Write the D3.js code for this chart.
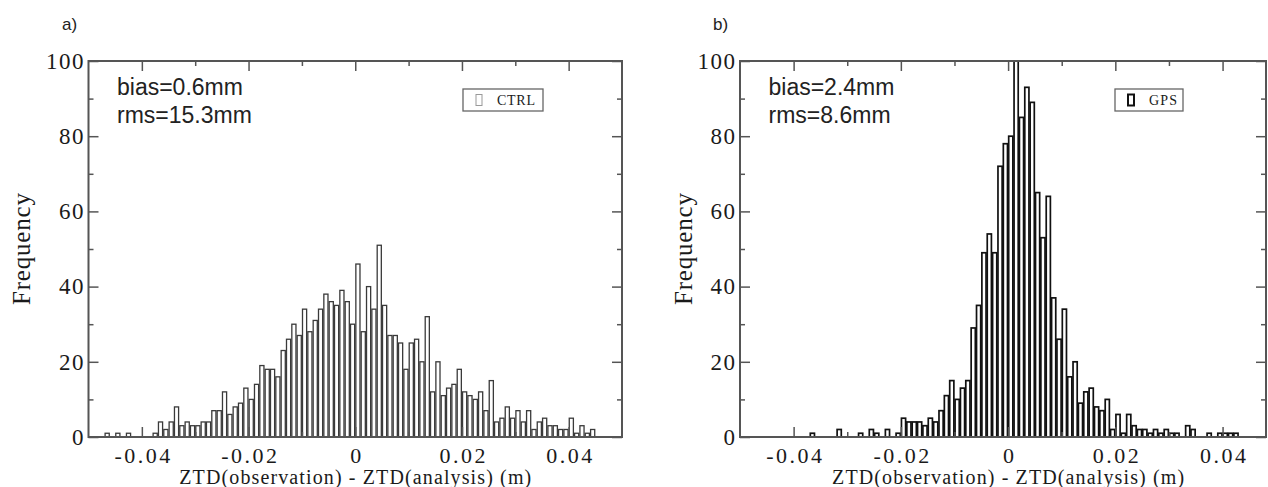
<!DOCTYPE html>
<html><head><meta charset="utf-8">
<script src="https://cdn.jsdelivr.net/npm/d3@7"></script>
<style>body{margin:0;background:#fff}svg{display:block}</style>
</head><body><svg id="c" width="1268" height="487"></svg>
<script>
// ---- data (bins are 1 mm wide, given by their left edge in mm) ----
const ctrlStartMm = -47;
const ctrlCounts = [1,0,1,0,1,0,0,0,0,1,
  4,2,4,8,3,4,3,3,4,4,
  7,7,12,6,8,9,13,10,14,19,
  18,18,16,23,26,30,27,34,28,31,
  34,38,36,35,39,36,30,46,28,40,
  34,51,35,27,27,25,18,25,26,20,
  32,12,20,11,13,14,18,12,11,10,
  12,7,15,4,5,8,5,7,4,7,
  2,4,5,3,3,2,2,5,1,3,
  1,2];
const gpsStartMm = -37;
const gpsCounts = [1,0,0,0,0,2,0,0,0,1,
  0,2,1,0,2,0,1,5,4,4,
  4,3,5,4,7,11,15,10,13,15,
  29,35,49,54,49,72,78,80,100,85,
  93,89,65,53,64,37,26,34,16,20,
  9,12,13,8,7,10,2,6,1,6,
  3,2,2,1,2,1,2,1,1,0,
  3,2,0,0,1,0,1,1,1,1];
const xTicks = [-0.04,-0.02,0,0.02,0.04];
const xMinorTicks = [-0.05,-0.03,-0.01,0.01,0.03,0.05];
const yTicks = [0,20,40,60,80,100];
const yMinorTicks = [10,30,50,70,90];
const panelLabels = ["a)","b)"];
const statsLines = [["bias=0.6mm","rms=15.3mm"],["bias=2.4mm","rms=8.6mm"]];
const legendNames = ["CTRL","GPS"];
const xTitle = "ZTD(observation) - ZTD(analysis)  (m)";
const yTitle = "Frequency";

// ---- layout ----
const panels = [
  {start:ctrlStartMm, counts:ctrlCounts, left:88.5, right:622, dom:[-0.05,0.05],
   barStroke:"#3a3a3a", barW:1.3, ylab:22, plab:62,
   leg:{x:463,y:89,w:80,h:22,sym:"#999",symW:1,tl:38}},
  {start:gpsStartMm, counts:gpsCounts, left:740, right:1266, dom:[-0.05,0.0481],
   barStroke:"#111", barW:1.7, ylab:684, plab:713,
   leg:{x:1115,y:89,w:68,h:22,sym:"#111",symW:2,tl:28}}
];
const plotTop = 61, plotBottom = 437;
const svg = d3.select("#c");
const serif = "'Liberation Serif','Times New Roman',serif";
const sans = "'Liberation Sans',Arial,sans-serif";
const fmt = d => d === 0 ? "0" : d.toFixed(2);

panels.forEach((p, i) => {
  const x = d3.scaleLinear().domain(p.dom).range([p.left, p.right]);
  const y = d3.scaleLinear().domain([0,100]).range([plotBottom, plotTop]);
  const g = svg.append("g");

  // bars
  const data = p.counts.map((c, j) => ({k: p.start + j, c})).filter(d => d.c > 0);
  g.selectAll("rect.bar").data(data).join("rect").attr("class","bar")
    .attr("x", d => x(d.k/1000) + 0.6)
    .attr("width", d => x((d.k+1)/1000) - x(d.k/1000) - 1.2)
    .attr("y", d => y(d.c))
    .attr("height", d => y(0) - y(d.c))
    .attr("fill","#fff").attr("stroke", p.barStroke).attr("stroke-width", p.barW);

  // axes (inward ticks)
  const tc = "#555";
  function styleAxis(sel){ sel.select(".domain").remove(); sel.selectAll("line").attr("stroke",tc).attr("stroke-width",1.5); }
  const minors = xMinorTicks.filter(v => v < p.dom[1] && v > p.dom[0]);
  const xb = g.append("g").attr("transform",`translate(0,${plotBottom})`)
    .call(d3.axisBottom(x).tickValues(xTicks).tickSize(-10).tickSizeOuter(0).tickPadding(10).tickFormat(fmt));
  styleAxis(xb);
  xb.selectAll("text").attr("font-family",serif).attr("font-size",22).attr("fill","#1a1a1a")
    .style("letter-spacing","2.5px").attr("dx",1.25);
  const xbm = g.append("g").attr("transform",`translate(0,${plotBottom})`)
    .call(d3.axisBottom(x).tickValues(minors).tickSize(-5).tickSizeOuter(0).tickFormat(""));
  styleAxis(xbm);
  const xt = g.append("g").attr("transform",`translate(0,${plotTop})`)
    .call(d3.axisTop(x).tickValues(xTicks).tickSize(-10).tickSizeOuter(0).tickFormat(""));
  styleAxis(xt);
  const xtm = g.append("g").attr("transform",`translate(0,${plotTop})`)
    .call(d3.axisTop(x).tickValues(minors).tickSize(-5).tickSizeOuter(0).tickFormat(""));
  styleAxis(xtm);
  const yl = g.append("g").attr("transform",`translate(${p.left},0)`)
    .call(d3.axisLeft(y).tickValues(yTicks).tickSize(-10).tickSizeOuter(0).tickPadding(5));
  styleAxis(yl);
  yl.selectAll("text").attr("font-family",serif).attr("font-size",23).attr("fill","#1a1a1a")
    .style("letter-spacing","1.5px").attr("dx",1.5);
  const ylm = g.append("g").attr("transform",`translate(${p.left},0)`)
    .call(d3.axisLeft(y).tickValues(yMinorTicks).tickSize(-5).tickSizeOuter(0).tickFormat(""));
  styleAxis(ylm);
  const yr = g.append("g").attr("transform",`translate(${p.right},0)`)
    .call(d3.axisRight(y).tickValues(yTicks).tickSize(-10).tickSizeOuter(0).tickFormat(""));
  styleAxis(yr);
  const yrm = g.append("g").attr("transform",`translate(${p.right},0)`)
    .call(d3.axisRight(y).tickValues(yMinorTicks).tickSize(-5).tickSizeOuter(0).tickFormat(""));
  styleAxis(yrm);

  // frame
  g.append("rect").attr("x",p.left).attr("y",plotTop).attr("width",p.right-p.left).attr("height",plotBottom-plotTop)
    .attr("fill","none").attr("stroke","#555").attr("stroke-width",2);

  // titles
  g.append("text").attr("x", x(0)).attr("y", 484).attr("text-anchor","middle")
    .attr("font-family",serif).attr("font-size",20).attr("fill","#1a1a1a")
    .attr("textLength",352).attr("lengthAdjust","spacing").text(xTitle);
  g.append("text").attr("transform",`translate(${p.ylab + 8},${(plotTop+plotBottom)/2}) rotate(-90)`)
    .attr("text-anchor","middle").attr("font-family",serif).attr("font-size",25).attr("fill","#1a1a1a")
    .attr("textLength",112).attr("lengthAdjust","spacing").text(yTitle);
  g.append("text").attr("x",p.plab).attr("y",30).attr("font-family",sans).attr("font-size",17)
    .attr("fill","#222").text(panelLabels[i]);

  // stats
  statsLines[i].forEach((t, j) => {
    g.append("text").attr("x",p.left+28.5).attr("y",95 + j*28).attr("font-family",sans)
      .attr("font-size",23).attr("fill","#222").text(t);
  });

  // legend
  const L = p.leg;
  g.append("rect").attr("x",L.x).attr("y",L.y).attr("width",L.w).attr("height",L.h)
    .attr("fill","#fff").attr("stroke","#666").attr("stroke-width",1.3);
  g.append("rect").attr("x",L.x+13).attr("y",L.y+5.5).attr("width",6).attr("height",11)
    .attr("fill","#fff").attr("stroke",L.sym).attr("stroke-width",L.symW);
  g.append("text").attr("x",L.x+34).attr("y",L.y+15.5).attr("font-family",serif).attr("font-size",14)
    .attr("fill","#1a1a1a").attr("textLength",L.tl).attr("lengthAdjust","spacing").text(legendNames[i]);
});
</script></body></html>
